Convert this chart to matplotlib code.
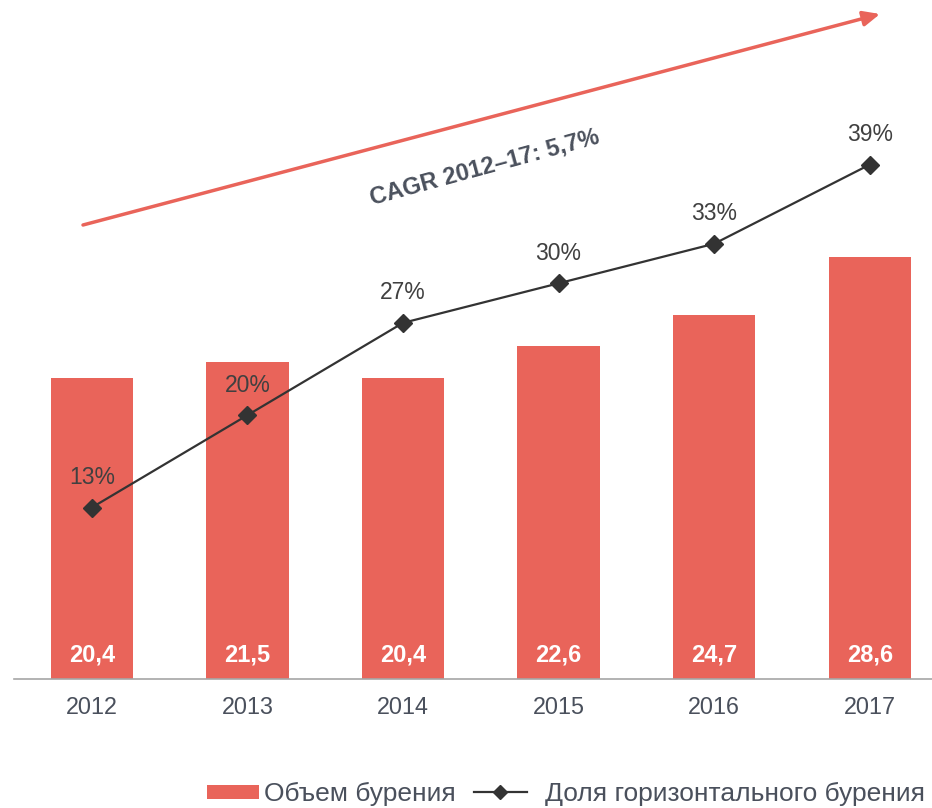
import matplotlib
matplotlib.use("Agg")
import matplotlib.pyplot as plt
from matplotlib.patches import Patch
from matplotlib.lines import Line2D

plt.rcParams['font.family'] = ['Liberation Sans', 'DejaVu Sans']

years = ['2012', '2013', '2014', '2015', '2016', '2017']
volume = [20.4, 21.5, 20.4, 22.6, 24.7, 28.6]
share = [13, 20, 27, 30, 33, 39]
vol_labels = ['20,4', '21,5', '20,4', '22,6', '24,7', '28,6']
share_labels = ['13%', '20%', '27%', '30%', '33%', '39%']
cagr_text = 'CAGR 2012–17: 5,7%'
legend_labels = ['Объем бурения', 'Доля горизонтального бурения']

bar_color = '#E9645A'
text_color = '#4A505C'
line_color = '#333333'

W, H = 932, 808
fig = plt.figure(figsize=(W / 100, H / 100), dpi=100)
ax = fig.add_axes([14 / W, (H - 679) / H, (W - 14) / W, 679 / H])
x = list(range(len(years)))
ax.bar(x, volume, width=0.53, color=bar_color, zorder=2)
ax.set_xlim(-0.5, 5.40)
ax.set_ylim(0, 46.03)
ax.set_yticks([])
for s in ['top', 'right', 'left']:
    ax.spines[s].set_visible(False)
ax.spines['bottom'].set_color('#A6A6A6')
ax.spines['bottom'].set_linewidth(1.2)
ax.set_xticks(x)
ax.set_xticklabels(years, fontsize=16.8, color=text_color)
ax.tick_params(axis='x', length=0, pad=12)

for xi, lab in zip(x, vol_labels):
    ax.text(xi, 1.63, lab, ha='center', va='center', color='white',
            fontsize=17, fontweight='bold', zorder=3)

ax2 = ax.twinx()
ax2.set_ylim(0, 51.48)
ax2.set_yticks([])
for s in ['top', 'right', 'left', 'bottom']:
    ax2.spines[s].set_visible(False)
ax2.plot(x, share, color=line_color, lw=1.6, marker='D', markersize=9,
         markerfacecolor=line_color, markeredgecolor=line_color, zorder=4)
for xi, v, lab in zip(x, share, share_labels):
    ax2.annotate(lab, (xi, v), xytext=(0, 30), textcoords='offset pixels',
                 ha='center', va='center', fontsize=16.5, color='#404040')

# CAGR arrow
ax.annotate('', xy=(880, H - 14), xycoords='figure pixels',
            xytext=(83, H - 225), textcoords='figure pixels',
            arrowprops=dict(arrowstyle='-|>,head_length=1.0,head_width=0.45',
                            color=bar_color, lw=2.5, shrinkA=0, shrinkB=0),
            annotation_clip=False)
fig.text(485 / W, (H - 167) / H, cagr_text, rotation=15.2, rotation_mode='anchor',
         ha='center', va='center', fontsize=17, fontweight='bold', color=text_color)

fs = 19
leg1 = fig.legend([Patch(facecolor=bar_color, edgecolor='none')], [legend_labels[0]],
                  loc='center left', bbox_to_anchor=(207 / W, (H - 794) / H),
                  frameon=False, fontsize=fs, borderpad=0, borderaxespad=0,
                  handlelength=1.97, handleheight=0.45, handletextpad=0.19)
leg2 = fig.legend([Line2D([0], [0], color=line_color, lw=1.6, marker='D', markersize=7.5,
                          markerfacecolor=line_color, markeredgecolor=line_color)],
                  [legend_labels[1]],
                  loc='center left', bbox_to_anchor=(474 / W, (H - 794) / H),
                  frameon=False, fontsize=fs, borderpad=0, borderaxespad=0,
                  handlelength=2.0, handletextpad=0.68)
for leg in (leg1, leg2):
    for t in leg.get_texts():
        t.set_color(text_color)

fig.savefig('out.png', dpi=100)
